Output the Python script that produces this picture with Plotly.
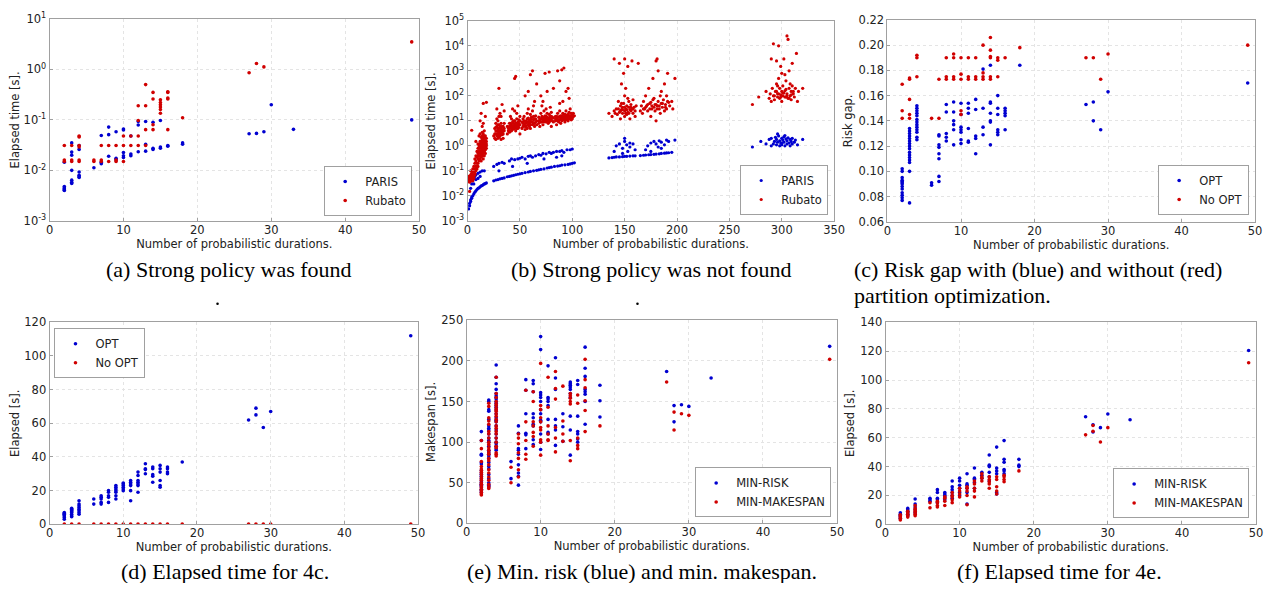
import plotly.graph_objects as go

# figure kept a little smaller than the window so that the page (8px body margin) never overflows
FW, FH = 1264, 575
OX, OY = 8, 8
BLUE = "#0000d0"
RED = "#d00000"

# ---------------- (a) Strong policy was found (log y) ----------------
a_paris = {2: [0.0145, 0.0048, 0.0045, 0.0043, 0.0041, 0.0040],
           3: [0.035, 0.023, 0.020, 0.010, 0.0064, 0.0058, 0.0055],
           4: [0.031, 0.026, 0.0093, 0.0080, 0.0075, 0.0072],
           6: [0.0113],
           7: [0.049, 0.0145, 0.0135],
           8: [0.072, 0.051, 0.019],
           9: [0.058, 0.0174, 0.0163],
           10: [0.066, 0.063, 0.0226, 0.0195, 0.018],
           11: [0.048, 0.021, 0.0195],
           12: [0.093, 0.079, 0.0233],
           13: [0.093, 0.033, 0.024],
           14: [0.090, 0.0275, 0.026],
           15: [0.097, 0.029, 0.0275],
           16: [0.031, 0.030],
           18: [0.035, 0.033],
           27: [0.053], 28: [0.054], 29: [0.058], 30: [0.20], 33: [0.065], 49: [0.10]}
a_rubato = {2: [0.031, 0.016, 0.015],
            3: [0.031, 0.016, 0.015],
            4: [0.048, 0.046, 0.031, 0.029, 0.016, 0.015],
            6: [0.016, 0.015],
            7: [0.031, 0.016, 0.015],
            8: [0.031, 0.015],
            9: [0.031, 0.016, 0.015],
            10: [0.048, 0.031, 0.015],
            11: [0.048, 0.031],
            12: [0.19, 0.097, 0.048, 0.031],
            13: [0.50, 0.19, 0.064, 0.031],
            14: [0.35, 0.26, 0.080, 0.064],
            15: [0.25, 0.22, 0.20, 0.18, 0.16, 0.135],
            16: [0.36, 0.35, 0.27, 0.26, 0.064],
            18: [0.11],
            27: [0.86], 28: [1.31], 29: [1.12], 49: [3.5]}

# ---------------- (b) Strong policy was not found (log y) ----------------
b_paris = [
    (1, 0.003), (2, 0.004), (2, 0.005), (3, 0.006), (3, 0.007), (4, 0.008), (4, 0.009), (5, 0.010),
    (6, 0.012), (7, 0.014), (8, 0.016), (9, 0.018), (10, 0.020), (11, 0.021), (12, 0.023), (13, 0.025),
    (14, 0.026), (15, 0.028), (16, 0.030), (17, 0.031), (18, 0.033), (25, 0.040), (27, 0.043), (29, 0.045),
    (31, 0.048), (33, 0.050), (35, 0.052), (38, 0.058), (40, 0.060), (42, 0.063), (44, 0.066), (46, 0.070),
    (48, 0.073), (50, 0.076), (52, 0.080), (55, 0.085), (58, 0.090), (60, 0.095), (63, 0.100), (66, 0.105),
    (68, 0.110), (70, 0.115), (73, 0.120), (76, 0.130), (78, 0.135), (80, 0.140), (83, 0.150), (86, 0.155),
    (88, 0.160), (90, 0.170), (93, 0.175), (96, 0.180), (98, 0.190), (100, 0.200), (102, 0.210),
    (135, 0.33), (138, 0.34), (140, 0.35), (142, 0.36), (145, 0.36), (148, 0.37), (150, 0.38), (152, 0.38),
    (155, 0.39), (158, 0.40), (160, 0.40), (165, 0.41), (168, 0.42), (170, 0.43), (173, 0.44), (175, 0.45),
    (178, 0.46), (180, 0.47), (183, 0.48), (185, 0.50), (188, 0.51), (190, 0.52), (192, 0.53), (195, 0.55),
    (3, 0.02), (4, 0.03), (5, 0.04), (6, 0.05), (7, 0.06), (8, 0.07), (10, 0.08), (12, 0.09), (14, 0.10),
    (16, 0.10), (6, 0.03), (8, 0.045), (10, 0.05), (12, 0.06), (25, 0.15), (28, 0.18), (30, 0.20), (33, 0.22),
    (35, 0.20), (30, 0.10), (40, 0.25), (42, 0.30), (45, 0.28), (48, 0.30), (50, 0.32), (43, 0.15), (52, 0.35),
    (55, 0.30), (58, 0.38), (60, 0.40), (62, 0.35), (57, 0.20), (65, 0.40), (68, 0.45), (70, 0.42), (72, 0.50),
    (75, 0.48), (78, 0.55), (73, 0.30), (80, 0.50), (82, 0.55), (85, 0.60), (88, 0.60), (90, 0.65), (92, 0.55),
    (95, 0.70), (98, 0.70), (100, 0.75), (85, 0.35), (90, 0.40), (140, 0.6), (142, 1.0), (145, 1.2), (148, 0.8),
    (150, 1.5), (150, 2.0), (152, 1.1), (155, 0.9), (155, 1.3), (158, 1.2), (148, 0.5), (153, 0.6), (160, 0.7),
    (170, 0.7), (172, 1.0), (175, 1.3), (178, 1.5), (180, 1.2), (182, 0.9), (183, 1.6), (185, 1.4), (188, 1.1),
    (190, 1.7), (192, 1.5), (198, 1.7), (175, 0.6), (185, 0.8),
    (272, 0.9), (280, 1.5), (285, 1.2), (288, 1.8), (290, 1.0), (290, 2.0), (292, 1.2), (293, 1.5), (294, 2.2),
    (295, 1.1), (295, 1.8), (296, 1.4), (297, 2.5), (298, 1.0), (298, 1.6), (299, 1.3), (300, 2.0), (300, 1.1),
    (301, 1.7), (302, 1.4), (302, 2.3), (303, 1.0), (304, 1.9), (305, 1.2), (305, 1.6), (306, 2.1), (307, 1.3),
    (308, 1.0), (308, 1.8), (309, 1.5), (310, 1.2), (310, 2.0), (312, 1.4), (313, 1.7), (315, 1.1), (320, 1.8),
    (296, 3.0), (300, 1.3), (303, 2.6)]
b_rubato = [
    (1, 0.05), (1, 0.04), (1, 0.06), (2, 0.015), (2, 0.035), (2, 0.05), (2, 0.06), (2, 0.045), (3, 0.04),
    (3, 0.055), (3, 0.07), (3, 0.05), (3, 0.1), (4, 0.045), (4, 0.06), (4, 0.08), (4, 4.2), (4, 0.05),
    (5, 0.05), (5, 0.07), (5, 0.12), (5, 0.04), (5, 0.09),
    (6, 0.06), (6, 0.09), (6, 0.15), (6, 0.05), (7, 0.08), (7, 0.12), (7, 0.2), (7, 0.3), (7, 0.07), (8, 0.1),
    (8, 0.15), (8, 0.25), (8, 0.4), (8, 1.5), (9, 0.15), (9, 0.2), (9, 0.35), (9, 0.6), (9, 0.12), (10, 0.2),
    (10, 0.3), (10, 0.5), (10, 0.8), (10, 0.15), (10, 1.2),
    (11, 0.25), (11, 0.4), (11, 0.6), (11, 1.0), (11, 2.5), (12, 0.3), (12, 0.5), (12, 0.8), (12, 1.2), (12, 3),
    (12, 10), (13, 0.35), (13, 0.6), (13, 1.0), (13, 1.5), (13, 0.25), (13, 20), (14, 0.4), (14, 0.7), (14, 1.1),
    (14, 1.8), (14, 3.5), (14, 6), (15, 0.5), (15, 0.8), (15, 1.2), (15, 2), (15, 0.3), (15, 8), (15, 50),
    (16, 0.6), (16, 1.0), (16, 1.5), (16, 2.5), (16, 0.4), (16, 4), (17, 0.7), (17, 1.2), (17, 2), (17, 0.5),
    (17, 15), (18, 0.8), (18, 1.5), (18, 55), (18, 1.0),
    (26, 2), (26, 5), (27, 3), (27, 8), (27, 1.8), (28, 2.5), (28, 4), (28, 6), (28, 12), (29, 3), (29, 2),
    (29, 5), (29, 10), (30, 2.2), (30, 3.5), (30, 7), (30, 200), (31, 2.5), (31, 4), (31, 6), (31, 20), (32, 3),
    (32, 5), (32, 1.8), (32, 15), (33, 2.8), (33, 4.5), (33, 45), (34, 3), (34, 6), (34, 2), (35, 4), (35, 8),
    (35, 25),
    (38, 3), (38, 6), (39, 4), (40, 5), (40, 8), (40, 3.5), (41, 6), (41, 4), (42, 7), (42, 12), (42, 5),
    (43, 4.5), (43, 9), (43, 30), (44, 6), (44, 10), (45, 5), (45, 7), (45, 500), (45, 25), (46, 8), (46, 4),
    (46, 600), (47, 6), (47, 12), (47, 5), (48, 9), (48, 7), (48, 40), (49, 5.5), (49, 11), (50, 7), (50, 15),
    (50, 3),
    (52, 5), (52, 9), (53, 6), (53, 12), (54, 7), (54, 15), (55, 4.5), (55, 8), (55, 100), (56, 6), (56, 10),
    (57, 9), (57, 20), (57, 5), (58, 7), (58, 13), (58, 150), (59, 8), (59, 6), (60, 10), (60, 18), (60, 700),
    (60, 5), (61, 9), (61, 14), (62, 7), (62, 25), (62, 1000), (63, 11), (63, 8), (64, 12), (64, 6), (64, 60),
    (65, 9), (65, 16), (66, 10), (66, 300),
    (68, 8), (68, 14), (69, 10), (69, 6), (70, 12), (70, 20), (70, 100), (71, 9), (71, 15), (72, 11), (72, 7),
    (72, 60), (73, 13), (73, 25), (74, 10), (74, 16), (74, 800), (75, 12), (75, 9), (75, 30), (76, 14), (76, 20),
    (76, 150), (77, 11), (77, 8), (78, 13), (78, 18), (78, 900), (79, 10), (79, 15), (80, 12), (80, 22), (80, 6),
    (81, 14), (82, 9), (82, 200),
    (84, 10), (84, 15), (85, 12), (85, 7), (86, 14), (86, 20), (86, 1000), (87, 11), (87, 9), (88, 15), (88, 25),
    (88, 400), (89, 13), (89, 8), (90, 16), (90, 12), (90, 1100), (91, 14), (91, 20), (91, 60), (92, 11),
    (92, 18), (92, 1300), (93, 13), (93, 9), (94, 15), (94, 25), (94, 150), (95, 12), (95, 17), (96, 14),
    (96, 10), (96, 200), (97, 16), (97, 22), (98, 13), (98, 30), (99, 15), (99, 11), (100, 18), (100, 14),
    (101, 20), (102, 16),
    (135, 20), (138, 15), (140, 25), (140, 3000), (142, 30), (143, 18), (144, 60), (145, 22), (145, 2000),
    (146, 40), (146, 12), (147, 28), (147, 300), (148, 35), (148, 20), (149, 50), (149, 800), (150, 25),
    (150, 100), (150, 3000), (150, 15), (151, 30), (151, 200), (152, 40), (152, 18), (153, 22), (153, 1500),
    (154, 35), (154, 60), (155, 28), (155, 12), (156, 45), (156, 25), (157, 30), (157, 2500), (158, 20),
    (158, 70), (159, 35), (160, 25), (160, 15), (163, 2000), (161, 40),
    (165, 25), (166, 40), (167, 20), (168, 60), (169, 30), (170, 35), (170, 100), (172, 45), (172, 25),
    (173, 200), (174, 30), (175, 55), (175, 15), (176, 40), (177, 500), (178, 35), (178, 80), (179, 25),
    (180, 45), (180, 2500), (180, 10), (181, 30), (181, 3000), (182, 60), (182, 1000), (183, 40), (184, 20),
    (185, 50), (185, 150), (186, 35), (187, 70), (188, 25), (188, 300), (189, 45), (190, 30), (190, 100),
    (192, 55), (193, 40), (195, 60), (198, 500), (196, 30), (191, 800),
    (272, 45), (278, 90), (285, 150), (288, 80), (289, 120), (290, 60), (290, 3000), (291, 200), (292, 100),
    (292, 12000), (293, 70), (294, 150), (295, 300), (295, 2500), (296, 90), (296, 120), (297, 500),
    (297, 10000), (298, 80), (298, 200), (299, 110), (299, 1500), (300, 150), (300, 60), (300, 800), (301, 100),
    (301, 250), (302, 130), (302, 3000), (303, 90), (303, 700), (304, 180), (304, 400), (305, 120),
    (305, 25000), (306, 80), (306, 18000), (307, 200), (307, 1000), (308, 100), (308, 300), (309, 150),
    (309, 70), (310, 250), (310, 2000), (311, 120), (312, 90), (313, 200), (314, 5000), (315, 60), (316, 150),
    (320, 200)]
b_rubato_more = [
    (10, 0.4), (11, 0.3), (11, 0.8), (12, 0.4), (12, 0.6), (12, 1.5), (13, 0.45), (13, 0.8), (13, 1.2),
    (13, 2.2), (14, 0.5), (14, 0.9), (14, 1.4), (14, 2.5), (15, 0.6), (15, 1.0), (15, 1.6), (15, 3), (16, 0.8),
    (16, 1.2), (16, 2), (17, 0.9), (17, 1.5), (17, 2.5), (18, 1.2), (18, 2),
    (25, 2.5), (26, 3), (27, 4), (27, 5.5), (28, 3), (29, 4), (29, 7), (30, 2.8), (30, 5), (31, 3), (32, 4),
    (32, 8), (33, 3.5), (33, 6), (34, 4), (35, 5), (30, 15), (28, 30),
    (39, 5), (40, 6), (41, 8), (42, 4), (43, 6), (44, 5), (44, 8), (45, 6), (45, 10), (46, 6), (47, 8), (48, 5),
    (49, 8), (50, 10), (47, 20), (41, 15),
    (53, 8), (54, 10), (55, 6), (56, 8), (57, 12), (58, 9), (59, 11), (60, 7), (61, 12), (62, 9), (63, 15),
    (64, 8), (65, 12), (66, 7), (58, 30), (63, 40),
    (68, 10), (69, 12), (70, 9), (71, 12), (72, 14), (73, 9), (74, 12), (75, 15), (76, 10), (77, 13), (78, 9),
    (79, 12), (80, 15), (81, 10), (82, 13), (71, 40), (79, 35),
    (84, 12), (85, 15), (86, 10), (87, 14), (88, 11), (89, 16), (90, 10), (91, 12), (92, 14), (93, 18),
    (94, 11), (95, 14), (96, 18), (97, 12), (98, 16), (99, 20), (100, 12), (101, 15), (88, 50), (97, 80),
    (141, 20), (144, 30), (146, 25), (148, 28), (150, 35), (151, 20), (152, 28), (154, 20), (156, 35),
    (158, 30), (147, 50), (153, 80), (168, 30), (171, 40), (174, 50), (176, 30), (179, 45), (181, 40),
    (183, 30), (186, 50), (189, 35), (191, 60), (177, 70), (184, 100),
    (293, 100), (295, 150), (297, 120), (299, 90), (301, 130), (303, 160), (305, 100), (307, 80), (309, 110),
    (311, 150), (296, 250), (304, 90)]

# ---------------- (c) Risk gap ----------------
c_opt = {2: [0.077, 0.079, 0.081, 0.083, 0.086, 0.088, 0.090, 0.091, 0.092, 0.093, 0.095, 0.100, 0.102],
         3: [0.075, 0.100, 0.107, 0.109, 0.111, 0.113, 0.115, 0.118, 0.120, 0.122, 0.124, 0.126, 0.128,
             0.130, 0.132, 0.134],
         4: [0.125, 0.127, 0.131, 0.133, 0.135, 0.137, 0.139, 0.141, 0.144, 0.146, 0.148, 0.150, 0.152],
         6: [0.089, 0.091],
         7: [0.092, 0.096, 0.110, 0.114, 0.119, 0.121, 0.128, 0.129],
         8: [0.124, 0.127, 0.130, 0.147, 0.153],
         9: [0.121, 0.133, 0.137, 0.140, 0.147, 0.155],
         10: [0.122, 0.125, 0.131, 0.133, 0.135, 0.145, 0.154],
         11: [0.123, 0.124, 0.134, 0.146, 0.150, 0.154],
         12: [0.114, 0.126, 0.128, 0.149, 0.157],
         13: [0.129, 0.135, 0.150, 0.181],
         14: [0.121, 0.139, 0.140, 0.146, 0.154, 0.155, 0.184],
         15: [0.129, 0.131, 0.133, 0.145, 0.150, 0.160],
         16: [0.133, 0.144, 0.146, 0.148, 0.150],
         18: [0.184], 27: [0.153], 28: [0.140, 0.155], 29: [0.133], 30: [0.163], 49: [0.170]}
c_noopt = {2: [0.142, 0.148, 0.169],
           3: [0.142, 0.145, 0.157, 0.173, 0.174],
           4: [0.175, 0.190, 0.192],
           6: [0.142],
           7: [0.142, 0.173],
           8: [0.173, 0.175, 0.190],
           9: [0.173, 0.175, 0.190, 0.193],
           10: [0.145, 0.148, 0.173, 0.177, 0.190],
           11: [0.173, 0.175, 0.190],
           12: [0.173, 0.175, 0.190],
           13: [0.173, 0.175, 0.178, 0.200],
           14: [0.173, 0.175, 0.190, 0.191, 0.196, 0.206],
           15: [0.175, 0.188, 0.190],
           16: [0.190], 18: [0.198], 27: [0.190], 28: [0.190], 29: [0.173], 30: [0.193], 49: [0.200]}

# ---------------- (d) Elapsed time for 4c ----------------
d_opt = {2: [3, 4, 5, 5.5, 6, 6.5, 7],
         3: [4.5, 5, 6, 7, 7.5, 8, 8.5, 9, 9.5],
         4: [6, 7, 8, 9, 10, 11, 12, 14],
         6: [12, 15],
         7: [12, 13, 15, 16, 17],
         8: [13, 16, 17, 19, 20],
         9: [15, 17, 19, 20, 21, 22, 23],
         10: [20, 21, 22, 23, 24, 24.5],
         11: [14, 20, 23, 24, 25, 26],
         12: [19, 23, 24, 25, 26, 29, 31],
         13: [30, 32.5, 33, 36],
         14: [25, 28.5, 29.5, 33, 34],
         15: [22, 23, 26, 31, 33, 35],
         16: [30, 31, 33, 34],
         18: [37], 27: [62], 28: [65, 69], 29: [57.5], 30: [67], 49: [112]}
d_noopt = {2: [0.1], 3: [0.1], 4: [0.1], 6: [0.1], 7: [0.1], 8: [0.1], 9: [0.1], 10: [0.1], 11: [0.1],
           12: [0.1], 13: [0.1], 14: [0.1], 15: [0.1], 16: [0.1], 18: [0.1], 27: [0.1], 28: [0.1],
           29: [0.1], 30: [0.1], 49: [0.1]}

# ---------------- (e) Makespan ----------------
e_risk = {2: [113, 102, 85, 84, 75, 73, 65, 62, 60, 58, 55, 52, 50, 48, 47, 45, 42, 40, 38],
          3: [152, 150, 140, 138, 128, 120, 117, 115, 110, 105, 102, 100, 95, 90, 88, 85, 83, 80, 75, 70,
              67, 60, 55, 50, 47, 45],
          4: [195, 180, 172, 165, 160, 157, 155, 153, 150, 148, 145, 143, 140, 135, 130, 127, 125, 120, 115,
              110, 105, 100, 98, 95, 92, 90],
          6: [76, 55],
          7: [120, 111, 92, 90, 85, 72, 62, 58, 47],
          8: [177, 164, 135, 111, 109, 92],
          9: [176, 172, 162, 135, 130, 122, 120, 103, 97],
          10: [230, 214, 161, 158, 155, 150, 140, 135, 127, 125, 110, 100, 91],
          11: [194, 155, 153, 150, 145, 128, 112, 110],
          12: [204, 179, 165, 128, 120, 115, 96],
          13: [135, 119, 101],
          14: [174, 172, 170, 168, 165, 160, 155, 132, 115, 84],
          15: [176, 171, 132, 113, 110, 104, 100],
          16: [217, 191, 181, 165, 162, 159, 150, 122],
          18: [170, 151, 131],
          27: [187], 28: [145, 125], 29: [146], 30: [144], 33: [179], 49: [218]}
e_makespan = {2: [102, 92, 76, 70, 67, 65, 63, 60, 57, 55, 53, 50, 48, 46, 44, 42, 40, 38, 36, 35],
              3: [148, 144, 130, 126, 122, 113, 110, 105, 100, 97, 93, 90, 87, 85, 80, 77, 72, 66, 62, 57,
                  53, 48, 45, 43],
              4: [180, 160, 155, 150, 147, 145, 142, 140, 138, 135, 132, 128, 125, 120, 117, 113, 110, 105,
                  100, 95, 93, 87, 85, 83],
              6: [69, 50],
              7: [110, 105, 98, 87, 80, 66, 57],
              8: [164, 125, 102, 85, 79],
              9: [162, 150, 125, 120, 112, 107, 95],
              10: [197, 145, 140, 130, 125, 118, 115, 103, 100, 84],
              11: [180, 143, 120, 110, 103, 102],
              12: [187, 166, 153, 118, 105, 88],
              13: [169, 126, 110, 101],
              14: [160, 157, 154, 150, 147, 102, 77],
              15: [158, 148, 105, 96, 92],
              16: [202, 177, 167, 151, 139, 113],
              18: [120], 27: [174], 28: [137, 115], 29: [135], 30: [133], 49: [202]}

# ---------------- (f) Elapsed time for 4e ----------------
f_risk = {2: [4, 5, 6, 7, 8], 3: [6, 7, 8, 9, 10, 11], 4: [8, 10, 12, 14, 17.5], 6: [16, 17, 18],
          7: [15, 17, 18, 22, 24], 8: [17, 19, 20, 21, 22], 9: [18, 20, 22, 24, 26, 30],
          10: [20, 22, 25, 27, 30, 32], 11: [14, 22, 25, 27, 28, 35], 12: [25, 29, 31, 32, 39],
          13: [32, 34, 36], 14: [30, 33, 36, 40, 41, 48], 15: [21, 22, 35, 37, 39, 53.5],
          16: [35, 37, 38, 43, 45, 58], 18: [40, 41, 45], 27: [74.5], 28: [64, 69], 29: [67],
          30: [76.5], 33: [72.5], 49: [120.5]}
f_makespan = {2: [3, 4, 5, 6, 6.5], 3: [5, 6, 7, 8, 9], 4: [6, 7, 8, 9, 10, 11, 13], 6: [11.5, 15],
              7: [12, 13, 15, 16], 8: [13, 16, 18, 19], 9: [15, 17, 19, 20, 22], 10: [19, 21, 23, 25],
              11: [13.5, 20, 23, 25, 26], 12: [19, 23, 25, 28, 30], 13: [30, 32, 33, 35],
              14: [25, 28, 29.5, 31, 33], 15: [21, 23, 26, 31, 33], 16: [29.5, 31, 33, 34], 18: [37],
              27: [62], 28: [64.5, 68.5], 29: [57], 30: [67], 49: [112]}

log_a_vals = [0.001, 0.01, 0.1, 1, 10]
log_a_text = ["10<sup>-3</sup>", "10<sup>-2</sup>", "10<sup>-1</sup>", "10<sup>0</sup>", "10<sup>1</sup>"]
log_b_vals = [0.001, 0.01, 0.1, 1, 10, 100, 1000, 10000, 100000]
log_b_text = ["10<sup>-3</sup>", "10<sup>-2</sup>", "10<sup>-1</sup>", "10<sup>0</sup>", "10<sup>1</sup>",
              "10<sup>2</sup>", "10<sup>3</sup>", "10<sup>4</sup>", "10<sup>5</sup>"]
c_ticks = [0.06, 0.08, 0.10, 0.12, 0.14, 0.16, 0.18, 0.20, 0.22]
c_ticktext = ["0.06", "0.08", "0.10", "0.12", "0.14", "0.16", "0.18", "0.20", "0.22"]


def expand(d):
    xs, ys = [], []
    for k, vals in d.items():
        for v in vals:
            xs.append(k)
            ys.append(v)
    return xs, ys


def unzip(pts):
    return [p[0] for p in pts], [p[1] for p in pts]


def px(x):
    return (x - OX) / FW


def py(y):
    return 1 - (y - OY) / FH


def xd(l, r):
    return [px(l), px(r)]


def yd(t, b):
    return [py(b), py(t)]


FONT = "DejaVu Sans"
FS = 11.5
fig = go.Figure()


def add(xs, ys, name, color, idx, size=3.6):
    sfx = "" if idx == 1 else str(idx)
    fig.add_trace(go.Scatter(x=xs, y=ys, mode="markers", name=name,
                             marker=dict(color=color, size=size, line=dict(width=0)),
                             xaxis="x" + sfx, yaxis="y" + sfx,
                             legend="legend" + sfx, showlegend=True))


add(*expand(a_paris), "PARIS", BLUE, 1)
add(*expand(a_rubato), "Rubato", RED, 1)
add(*unzip(b_paris), "PARIS", BLUE, 2, 3.2)
bx, by = unzip(b_rubato + b_rubato_more)
add(bx, by, "Rubato", RED, 2, 3.2)
add(*expand(c_opt), "OPT", BLUE, 3)
add(*expand(c_noopt), "No OPT", RED, 3)
add(*expand(d_opt), "OPT", BLUE, 4)
add(*expand(d_noopt), "No OPT", RED, 4)
add(*expand(e_risk), "MIN-RISK", BLUE, 5)
add(*expand(e_makespan), "MIN-MAKESPAN", RED, 5)
add(*expand(f_risk), "MIN-RISK", BLUE, 6)
add(*expand(f_makespan), "MIN-MAKESPAN", RED, 6)


def axis(domain, anchor, rng, title, dtick=None, typ="linear", tickvals=None, ticktext=None, is_x=False):
    d = dict(domain=domain, anchor=anchor, range=rng, type=typ,
             showline=True, linecolor="#a0a0a0", linewidth=1, mirror=True,
             ticks="inside", ticklen=3, tickcolor="#a0a0a0",
             showgrid=True, gridcolor="#e4e4e4", griddash="dot", gridwidth=1,
             zeroline=False, tickfont=dict(family=FONT, size=FS, color="#222"),
             title=dict(text=title, font=dict(family=FONT, size=FS, color="#222"),
                        standoff=0 if is_x else 3))
    if is_x:
        d["ticklabelstandoff"] = -2
    if dtick is not None:
        d["dtick"] = dtick
    if tickvals is not None:
        d["tickmode"] = "array"
        d["tickvals"] = tickvals
        d["ticktext"] = ticktext
    return d


XT = "Number of probabilistic durations."
panels = {
    1: (xd(46, 420), yd(12, 219)),
    2: (xd(469, 840), yd(14, 219)),
    3: (xd(894, 1266), yd(13, 220)),
    4: (xd(46, 419), yd(323, 530)),
    5: (xd(468, 843), yd(321, 529)),
    6: (xd(892, 1267), yd(323, 530)),
}
lay = {}
lay["xaxis"] = axis(panels[1][0], "y", [0, 50], XT, dtick=10, is_x=True)
lay["yaxis"] = axis(panels[1][1], "x", [-3, 1], "Elapsed time [s].", typ="log",
                    tickvals=log_a_vals, ticktext=log_a_text)
lay["xaxis2"] = axis(panels[2][0], "y2", [0, 350], XT, dtick=50, is_x=True)
lay["yaxis2"] = axis(panels[2][1], "x2", [-3, 5], "Elapsed time [s].", typ="log",
                     tickvals=log_b_vals, ticktext=log_b_text)
lay["xaxis3"] = axis(panels[3][0], "y3", [0, 50], XT, dtick=10, is_x=True)
lay["yaxis3"] = axis(panels[3][1], "x3", [0.06, 0.22], "Risk gap.", tickvals=c_ticks, ticktext=c_ticktext)
lay["xaxis4"] = axis(panels[4][0], "y4", [0, 50], XT, dtick=10, is_x=True)
lay["yaxis4"] = axis(panels[4][1], "x4", [0, 120], "Elapsed [s].", dtick=20)
lay["xaxis5"] = axis(panels[5][0], "y5", [0, 50], XT, dtick=10, is_x=True)
lay["yaxis5"] = axis(panels[5][1], "x5", [0, 250], "Makespan [s].", dtick=50)
lay["xaxis6"] = axis(panels[6][0], "y6", [0, 50], XT, dtick=10, is_x=True)
lay["yaxis6"] = axis(panels[6][1], "x6", [0, 140], "Elapsed [s].", dtick=20)


def leg(x, y, xa, ya):
    return dict(x=px(x), y=py(y), xanchor=xa, yanchor=ya, bgcolor="white",
                bordercolor="#a0a0a0", borderwidth=1, font=dict(family=FONT, size=FS, color="#222"),
                tracegroupgap=0, itemsizing="trace", itemwidth=30)


lay["legend"] = leg(413, 214, "right", "bottom")
lay["legend2"] = leg(834, 213, "right", "bottom")
lay["legend3"] = leg(1260, 213, "right", "bottom")
lay["legend4"] = leg(51, 329, "left", "top")
lay["legend5"] = leg(837, 523, "right", "bottom")
lay["legend6"] = leg(1260, 524, "right", "bottom")

SERIF = "Liberation Serif"
captions = [
    ("(a) Strong policy was found", 228, 269, "center"),
    ("(b) Strong policy was not found", 655, 269, "center"),
    ("(c) Risk gap with (blue) and without (red)", 858, 269, "left"),
    ("partition optimization.", 858, 295, "left"),
    ("(d) Elapsed time for 4c.", 224, 578, "center"),
    ("(e) Min. risk (blue) and min. makespan.", 646, 578, "center"),
    ("(f) Elapsed time for 4e.", 1068, 578, "center"),
]
annotations = []
for txt, cx, cy, xa in captions:
    annotations.append(dict(text=txt, x=px(cx), y=py(cy), xref="paper", yref="paper",
                            xanchor=xa, yanchor="middle", showarrow=False,
                            font=dict(family=SERIF, size=22, color="black")))

shapes = []
for (dx, dy) in [(216, 304), (641, 304)]:
    shapes.append(dict(type="circle", xref="paper", yref="paper",
                       x0=px(dx - 1.3), x1=px(dx + 1.3), y0=py(dy + 1.3), y1=py(dy - 1.3),
                       fillcolor="black", line=dict(width=0)))

fig.update_layout(width=FW, height=FH, margin=dict(l=0, r=0, t=0, b=0),
                  paper_bgcolor="white", plot_bgcolor="white",
                  annotations=annotations, shapes=shapes, **lay)

fig.write_html("out.html")
